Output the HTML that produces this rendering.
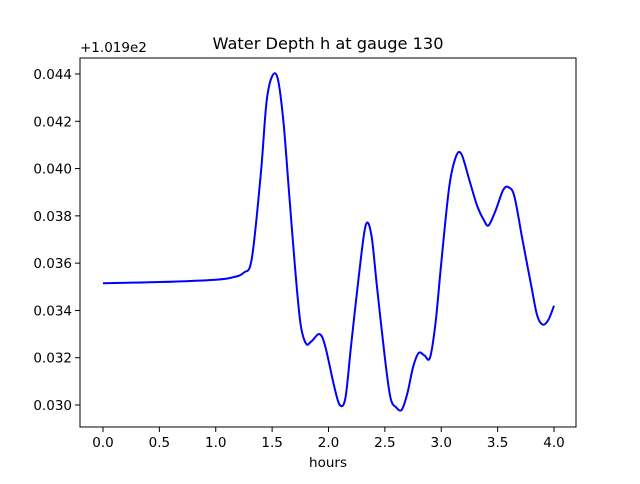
<!DOCTYPE html>
<html><head><meta charset="utf-8"><style>
body{margin:0;background:#fff;font-family:"DejaVu Sans","Liberation Sans",sans-serif}
text{font-family:"DejaVu Sans","Liberation Sans",sans-serif;fill:#000}
</style></head><body>
<svg id="chart" width="640" height="480" viewBox="0 0 640 480" xmlns="http://www.w3.org/2000/svg">
<rect width="640" height="480" fill="#fff"/>
<g id="plot"></g>
</svg>
<script>
const hours=[0,0.5,1.0,1.15,1.25,1.32,1.4,1.45,1.5,1.55,1.6,1.65,1.7,1.75,1.8,1.85,1.92,1.97,2.05,2.1,2.15,2.2,2.27,2.33,2.38,2.43,2.5,2.55,2.6,2.65,2.7,2.75,2.8,2.85,2.9,2.95,3.0,3.07,3.13,3.18,3.25,3.32,3.38,3.42,3.48,3.55,3.6,3.65,3.72,3.8,3.85,3.9,3.95,4.0];
const depth=[0.03515,0.0352,0.0353,0.0354,0.0356,0.0362,0.0398,0.0428,0.0439,0.0438,0.0420,0.0390,0.0360,0.0335,0.0326,0.0327,0.0330,0.0325,0.0308,0.0300,0.0303,0.0325,0.0355,0.0376,0.0372,0.0350,0.0320,0.0303,0.0299,0.0298,0.0305,0.0316,0.0322,0.0321,0.0320,0.0335,0.0360,0.0392,0.0405,0.0406,0.0395,0.0384,0.0378,0.0376,0.0382,0.0391,0.0392,0.0388,0.0370,0.0350,0.0338,0.0334,0.0336,0.0342];
const xTicks=[0,0.5,1.0,1.5,2.0,2.5,3.0,3.5,4.0];
const xTickLabels=["0.0","0.5","1.0","1.5","2.0","2.5","3.0","3.5","4.0"];
const yTicks=[0.030,0.032,0.034,0.036,0.038,0.040,0.042,0.044];
const yTickLabels=["0.030","0.032","0.034","0.036","0.038","0.040","0.042","0.044"];
const L=80,R=576,T=58,B=427;
const xs=v=>103+(v-0)*(554-103)/4;
const ys=v=>405-(v-0.030)*(405-74)/0.014;
const NS="http://www.w3.org/2000/svg";
const g=document.getElementById('plot');
function el(t,a,txt){const e=document.createElementNS(NS,t);for(const k in a)e.setAttribute(k,a[k]);if(txt!==undefined)e.textContent=txt;g.appendChild(e);return e;}
const P=hours.map((h,i)=>[xs(h),ys(depth[i])]);
let d=`M${P[0][0]},${P[0][1]}`;
for(let i=0;i<P.length-1;i++){const p0=P[Math.max(0,i-1)],p1=P[i],p2=P[i+1],p3=P[Math.min(P.length-1,i+2)];
d+=` C${p1[0]+(p2[0]-p0[0])/6},${p1[1]+(p2[1]-p0[1])/6} ${p2[0]-(p3[0]-p1[0])/6},${p2[1]-(p3[1]-p1[1])/6} ${p2[0]},${p2[1]}`;}
const line=el('path',{d:d,fill:'none',stroke:'#0000ff','stroke-width':2});


const frame=el('rect',{x:L,y:T,width:R-L,height:B-T,fill:'none',stroke:'#000','stroke-width':1});


xTicks.forEach((v,i)=>{const x=xs(v);
const t=el('line',{x1:x,x2:x,y1:B,y2:B+5,stroke:'#000'});


const l=el('text',{x:x,y:B+20,'font-size':13.5,'text-anchor':'middle'},xTickLabels[i]);

});
yTicks.forEach((v,i)=>{const y=ys(v);
const t=el('line',{x1:L-5,x2:L,y1:y,y2:y,stroke:'#000'});


const l=el('text',{x:L-8,y:y+5,'font-size':13.5,'text-anchor':'end'},yTickLabels[i]);

});
const off=el('text',{x:80,y:52,'font-size':13.5},'+1.019e2');


const ti=el('text',{x:328,y:49,'font-size':16.2,'text-anchor':'middle'},'Water Depth h at gauge 130');


const xl=el('text',{x:328,y:467,'font-size':13.5,'text-anchor':'middle'},'hours');


</script>
</body></html>
